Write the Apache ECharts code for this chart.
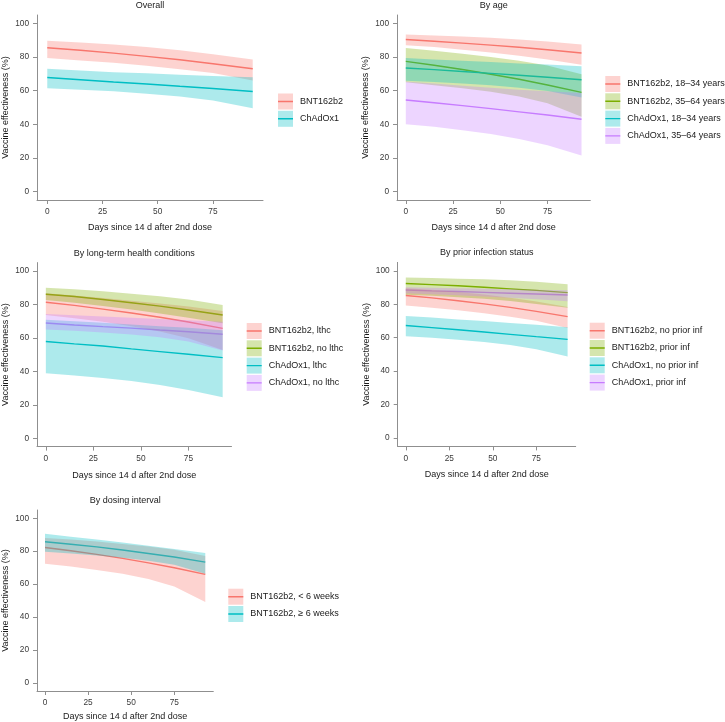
<!DOCTYPE html>
<html>
<head>
<meta charset="utf-8">
<script src="https://cdn.jsdelivr.net/npm/echarts@6/dist/echarts.min.js"></script>
<style>
html,body{margin:0;padding:0;background:#fff;}
#chart{width:725px;height:722px;}
</style>
</head>
<body>
<div id="chart"></div>
<script>
// ---------- data ----------
const days = [0, 15, 30, 45, 60, 75, 93];
const xTicks = [0, 25, 50, 75];
const yTicks = [0, 20, 40, 60, 80, 100];

// Overall
const ovBntEst = [85.5, 84.0, 82.3, 80.4, 78.4, 76.0, 73.0];
const ovBntLo  = [79.5, 78.0, 76.6, 74.8, 72.8, 70.5, 66.0];
const ovBntHi  = [89.7, 88.7, 87.4, 85.9, 84.0, 81.7, 78.5];
const ovChaEst = [67.8, 66.5, 65.2, 64.0, 62.6, 61.3, 59.5];
const ovChaLo  = [61.5, 60.6, 59.6, 58.2, 56.5, 54.2, 49.5];
const ovChaHi  = [73.0, 72.0, 71.0, 70.3, 69.5, 68.8, 68.0];

// By age
const ageBnt1834Est = [90.4, 89.4, 88.3, 87.1, 85.8, 84.3, 82.4];
const ageBnt1834Lo  = [87.0, 85.9, 84.4, 82.7, 80.8, 78.6, 75.4];
const ageBnt1834Hi  = [93.4, 92.8, 92.2, 91.4, 90.4, 89.2, 87.4];
const ageBnt3564Est = [77.4, 75.1, 72.6, 69.8, 66.8, 63.4, 59.0];
const ageBnt3564Lo  = [65.0, 63.3, 61.5, 59.3, 56.5, 52.5, 44.5];
const ageBnt3564Hi  = [85.4, 83.8, 82.0, 80.0, 77.8, 75.0, 69.7];
const ageCha1834Est = [73.5, 72.5, 71.4, 70.3, 69.2, 68.0, 66.5];
const ageCha1834Lo  = [65.9, 65.2, 64.3, 63.2, 61.8, 59.8, 56.0];
const ageCha1834Hi  = [79.4, 78.6, 77.8, 77.0, 76.2, 75.5, 74.5];
const ageCha3564Est = [54.5, 52.8, 51.1, 49.3, 47.4, 45.5, 43.0];
const ageCha3564Lo  = [40.0, 38.5, 36.5, 34.2, 31.3, 27.5, 21.5];
const ageCha3564Hi  = [65.5, 64.3, 63.0, 61.8, 60.6, 59.6, 58.6];

// By long-term health conditions
const ltcBntLtcEst = [81.3, 79.4, 77.2, 74.9, 72.3, 69.5, 65.7];
const ltcBntLtcLo  = [73.7, 71.8, 69.6, 67.0, 63.8, 59.8, 52.8];
const ltcBntLtcHi  = [86.7, 85.3, 83.8, 82.2, 80.6, 78.8, 76.0];
const ltcBntNoEst  = [86.1, 84.7, 82.9, 81.0, 79.0, 76.7, 73.7];
const ltcBntNoLo   = [82.7, 81.0, 79.0, 77.0, 74.6, 72.1, 68.7];
const ltcBntNoHi   = [90.0, 89.0, 87.8, 86.4, 84.9, 83.0, 79.7];
const ltcChaLtcEst = [57.8, 56.4, 55.1, 53.4, 51.8, 50.2, 48.2];
const ltcChaLtcLo  = [38.8, 37.5, 36.0, 34.2, 31.8, 28.8, 24.5];
const ltcChaLtcHi  = [70.9, 70.0, 69.0, 68.0, 67.0, 66.0, 64.5];
const ltcChaNoEst  = [68.9, 67.7, 66.7, 65.8, 64.7, 63.7, 62.2];
const ltcChaNoLo   = [65.0, 64.2, 63.2, 62.0, 60.3, 57.8, 52.5];
const ltcChaNoHi   = [74.3, 73.5, 72.8, 72.0, 71.3, 70.6, 69.7];

// By prior infection status
const priBntNoEst  = [85.2, 83.8, 82.1, 80.2, 78.1, 75.7, 72.6];
const priBntNoLo   = [79.3, 77.9, 76.4, 74.6, 72.5, 70.1, 65.8];
const priBntNoHi   = [89.6, 88.6, 87.3, 85.8, 83.9, 81.6, 78.3];
const priBntPriEst = [92.4, 91.7, 91.0, 90.1, 89.2, 88.3, 86.9];
const priBntPriLo  = [85.6, 85.0, 84.2, 83.2, 81.9, 80.2, 77.9];
const priBntPriHi  = [96.0, 95.7, 95.3, 94.9, 94.3, 93.5, 92.0];
const priChaNoEst  = [67.3, 66.0, 64.7, 63.4, 62.0, 60.6, 59.0];
const priChaNoLo   = [60.8, 59.9, 58.8, 57.4, 55.6, 53.1, 48.7];
const priChaNoHi   = [73.0, 72.0, 70.9, 69.9, 68.8, 67.7, 66.3];
const priChaPriEst = [88.5, 88.0, 87.6, 87.1, 86.6, 86.1, 85.5];
const priChaPriLo  = [86.6, 86.0, 85.3, 84.6, 83.8, 82.9, 81.8];
const priChaPriHi  = [90.2, 89.9, 89.6, 89.3, 89.0, 88.7, 88.3];

// By dosing interval
const dosLt6Est = [82.2, 80.2, 78.0, 75.6, 72.9, 69.9, 65.9];
const dosLt6Lo  = [72.3, 70.6, 68.6, 66.2, 63.0, 58.5, 49.1];
const dosLt6Hi  = [88.0, 87.0, 85.8, 84.4, 82.8, 80.8, 77.1];
const dosGe6Est = [85.7, 84.2, 82.6, 80.7, 78.6, 76.4, 73.3];
const dosGe6Lo  = [79.6, 78.6, 77.4, 76.0, 74.2, 71.8, 66.3];
const dosGe6Hi  = [90.5, 88.8, 87.0, 85.2, 83.3, 81.3, 78.8];

// ---------- styling / layout ----------
const RED = '#F8766D', GREEN = '#7CAE00', TEAL = '#00BFC4', PURPLE = '#C77CFF';
const FONT = '"Liberation Sans", Arial, Helvetica, sans-serif';
const X_NAME = 'Days since 14 d after 2nd dose';
const Y_NAME = 'Vaccine effectiveness (%)';
const TXT = 9, TICK_TXT = 8.3;
const BAND_ALPHA = 0.32;

const panels = [
  { title: 'Overall', grid: {left: 37, top: 15, width: 226, height: 185}, xNameGap: 23,
    legend: {left: 278, top: 93.5},
    groups: [
      {name: 'BNT162b2', color: RED, est: ovBntEst, lo: ovBntLo, hi: ovBntHi},
      {name: 'ChAdOx1', color: TEAL, est: ovChaEst, lo: ovChaLo, hi: ovChaHi}
    ]},
  { title: 'By age', grid: {left: 397, top: 15, width: 193.3, height: 185}, xNameGap: 23,
    legend: {left: 605.3, top: 76},
    groups: [
      {name: 'BNT162b2, 18–34 years', color: RED, est: ageBnt1834Est, lo: ageBnt1834Lo, hi: ageBnt1834Hi},
      {name: 'BNT162b2, 35–64 years', color: GREEN, est: ageBnt3564Est, lo: ageBnt3564Lo, hi: ageBnt3564Hi},
      {name: 'ChAdOx1, 18–34 years', color: TEAL, est: ageCha1834Est, lo: ageCha1834Lo, hi: ageCha1834Hi},
      {name: 'ChAdOx1, 35–64 years', color: PURPLE, est: ageCha3564Est, lo: ageCha3564Lo, hi: ageCha3564Hi}
    ]},
  { title: 'By long-term health conditions', grid: {left: 37, top: 262.6, width: 194.5, height: 184}, xNameGap: 24,
    legend: {left: 246.7, top: 323},
    groups: [
      {name: 'BNT162b2, lthc', color: RED, est: ltcBntLtcEst, lo: ltcBntLtcLo, hi: ltcBntLtcHi},
      {name: 'BNT162b2, no lthc', color: GREEN, est: ltcBntNoEst, lo: ltcBntNoLo, hi: ltcBntNoHi},
      {name: 'ChAdOx1, lthc', color: TEAL, est: ltcChaLtcEst, lo: ltcChaLtcLo, hi: ltcChaLtcHi},
      {name: 'ChAdOx1, no lthc', color: PURPLE, est: ltcChaNoEst, lo: ltcChaNoLo, hi: ltcChaNoHi}
    ]},
  { title: 'By prior infection status', grid: {left: 397.7, top: 262.4, width: 178, height: 184}, xNameGap: 24,
    legend: {left: 589.7, top: 322.7},
    groups: [
      {name: 'BNT162b2, no prior inf', color: RED, est: priBntNoEst, lo: priBntNoLo, hi: priBntNoHi},
      {name: 'BNT162b2, prior inf', color: GREEN, est: priBntPriEst, lo: priBntPriLo, hi: priBntPriHi},
      {name: 'ChAdOx1, no prior inf', color: TEAL, est: priChaNoEst, lo: priChaNoLo, hi: priChaNoHi},
      {name: 'ChAdOx1, prior inf', color: PURPLE, est: priChaPriEst, lo: priChaPriLo, hi: priChaPriHi}
    ]},
  { title: 'By dosing interval', grid: {left: 37, top: 510, width: 176.3, height: 185}, xNameGap: 21,
    legend: {left: 228.3, top: 588.7},
    groups: [
      {name: 'BNT162b2, < 6 weeks', color: RED, est: dosLt6Est, lo: dosLt6Lo, hi: dosLt6Hi},
      {name: 'BNT162b2, ≥ 6 weeks', color: TEAL, est: dosGe6Est, lo: dosGe6Lo, hi: dosGe6Hi}
    ]}
];

const KEY_W = 15, KEY_H = 16, KEY_GAP = 1.3;
// legend key line: full-height bounding box so the item keeps KEY_H, visible stroke in the middle
const KEY_ICON = 'path://M0,0 H0.01 V0.01 H0 Z M0,7.3 H15 V8.7 H0 Z M14.99,15.99 H15 V16 H14.99 Z';

function rgba(hex, a) {
  const n = parseInt(hex.slice(1), 16);
  return 'rgba(' + ((n >> 16) & 255) + ',' + ((n >> 8) & 255) + ',' + (n & 255) + ',' + a + ')';
}

const grids = [], xAxes = [], yAxes = [], series = [], titles = [], legends = [], graphics = [];
const AXIS_COLOR = '#8f8f8f', LABEL_COLOR = '#3a3a3a', TEXT_COLOR = '#1a1a1a';

panels.forEach((p, i) => {
  grids.push(Object.assign({containLabel: false}, p.grid));
  xAxes.push({
    type: 'value', gridIndex: i, min: -4.65, max: 97.65,
    axisLine: {show: true, onZero: false, lineStyle: {color: AXIS_COLOR, width: 1}},
    axisTick: {show: true, length: 4, customValues: xTicks, lineStyle: {color: AXIS_COLOR}},
    axisLabel: {customValues: xTicks, margin: 8, fontSize: TICK_TXT, color: LABEL_COLOR, fontFamily: FONT},
    splitLine: {show: false},
    name: X_NAME, nameLocation: 'middle', nameGap: p.xNameGap,
    nameTextStyle: {fontSize: TXT, color: TEXT_COLOR, fontFamily: FONT}
  });
  yAxes.push({
    type: 'value', gridIndex: i, min: -5, max: 105,
    axisLine: {show: true, onZero: false, lineStyle: {color: AXIS_COLOR, width: 1}},
    axisTick: {show: true, length: 4, customValues: yTicks, lineStyle: {color: AXIS_COLOR}},
    axisLabel: {customValues: yTicks, margin: 8, fontSize: TICK_TXT, color: LABEL_COLOR, fontFamily: FONT},
    splitLine: {show: false},
    name: Y_NAME, nameLocation: 'middle', nameGap: 27,
    nameTextStyle: {fontSize: TXT, color: TEXT_COLOR, fontFamily: FONT}
  });
  titles.push({
    text: p.title, left: p.grid.left + p.grid.width / 2, top: p.grid.top - 14, textAlign: 'center',
    padding: 0,
    textStyle: {fontSize: TXT, fontWeight: 'normal', color: TEXT_COLOR, fontFamily: FONT}
  });
  legends.push({
    data: p.groups.map(g => g.name), orient: 'vertical', left: p.legend.left, top: p.legend.top,
    itemWidth: KEY_W, itemHeight: KEY_H, itemGap: KEY_GAP, padding: 0, selectedMode: false,
    icon: KEY_ICON,
    textStyle: {fontSize: TXT, color: TEXT_COLOR, fontFamily: FONT, padding: [0, 0, 0, 2]}
  });
  p.groups.forEach((g, k) => {
    // estimate line (drawn below ribbons, as in the source)
    series.push({
      name: g.name, type: 'line', xAxisIndex: i, yAxisIndex: i, z: 2,
      data: days.map((d, j) => [d, g.est[j]]),
      symbol: 'none', showSymbol: false,
      lineStyle: {color: g.color, width: 1.4}, itemStyle: {color: g.color},
      silent: true, animation: false
    });
    // confidence ribbon as a polygon through the axis scales
    series.push({
      name: g.name + ' CI', type: 'custom', xAxisIndex: i, yAxisIndex: i, z: 3,
      data: days.map((d, j) => [d, g.lo[j], g.hi[j]]),
      encode: {x: 0, y: [1, 2]},
      silent: true, animation: false,
      renderItem: function (params, api) {
        if (params.dataIndex !== 0) return null;
        const upper = days.map((d, j) => api.coord([d, g.hi[j]]));
        const lower = days.map((d, j) => api.coord([d, g.lo[j]])).reverse();
        return {
          type: 'polygon',
          shape: {points: upper.concat(lower)},
          style: {fill: rgba(g.color, BAND_ALPHA), stroke: null}
        };
      }
    });
    // legend key background (ribbon fill drawn over the legend line, as in the source)
    graphics.push({
      type: 'rect', z: 100,
      shape: {x: p.legend.left, y: p.legend.top + k * (KEY_H + KEY_GAP), width: KEY_W, height: KEY_H},
      style: {fill: rgba(g.color, BAND_ALPHA)}, silent: true
    });
  });
});

const chart = echarts.init(document.getElementById('chart'), null, {renderer: 'canvas'});
chart.setOption({
  animation: false,
  backgroundColor: '#ffffff',
  textStyle: {fontFamily: FONT},
  title: titles,
  grid: grids,
  xAxis: xAxes,
  yAxis: yAxes,
  legend: legends,
  graphic: {elements: graphics},
  series: series
});
</script>
</body>
</html>
